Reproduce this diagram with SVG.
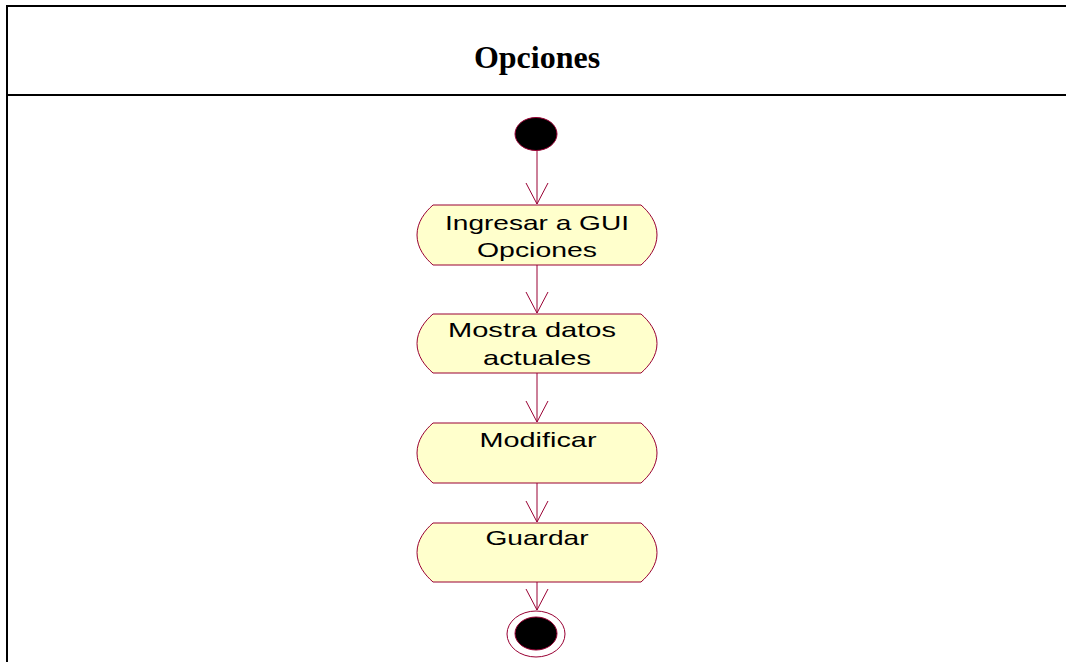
<svg xmlns="http://www.w3.org/2000/svg" width="1066" height="662" viewBox="0 0 1066 662">
<style>
.frame{stroke:#000;stroke-width:2;fill:none}
.act{fill:#ffffcc;stroke:#990033;stroke-width:1}
.lbl{font-family:"Liberation Sans",Arial,sans-serif;font-size:21px;fill:#000;text-anchor:middle}
.title{font-family:"Liberation Serif","Times New Roman",serif;font-size:32px;font-weight:bold;fill:#000;text-anchor:middle}
.conn{stroke:#990033;stroke-width:1;fill:none}
</style>
<defs>
<marker id="arr" markerWidth="24" markerHeight="24" viewBox="0 0 24 24" refX="21" refY="12" orient="auto" markerUnits="userSpaceOnUse">
<path d="M0,1 L21,12 L0,23" fill="none" stroke="#990033" stroke-width="1"/>
</marker>
</defs>
<rect width="1066" height="662" fill="#fff"/>
<g id="frame">
<line class="frame" x1="6" y1="6" x2="1066" y2="6"/>
<line class="frame" x1="6" y1="95" x2="1066" y2="95"/>
<line class="frame" x1="7" y1="5" x2="7" y2="662"/>
<text class="title" x="537" y="68">Opciones</text>
</g>
<g id="connectors">
<line class="conn" x1="537" y1="150" x2="537" y2="204" marker-end="url(#arr)"/>
<line class="conn" x1="537" y1="265" x2="537" y2="313" marker-end="url(#arr)"/>
<line class="conn" x1="537" y1="373" x2="537" y2="422" marker-end="url(#arr)"/>
<line class="conn" x1="537" y1="483" x2="537" y2="522" marker-end="url(#arr)"/>
<line class="conn" x1="537" y1="582" x2="537" y2="610" marker-end="url(#arr)"/>
</g>
<g id="start">
<ellipse cx="536" cy="134" rx="21" ry="16.5" fill="#000" stroke="#990033" stroke-width="1"/>
</g>
<g id="act1">
<path class="act" d="M433,205 L641,205 C649,212 657,222 657,235 C657,248 649,258 641,265 L433,265 C425,258 417,248 417,235 C417,222 425,212 433,205 Z"/>
<text class="lbl" x="537" y="230" textLength="184" lengthAdjust="spacingAndGlyphs">Ingresar a GUI</text>
<text class="lbl" x="537" y="257" textLength="120" lengthAdjust="spacingAndGlyphs">Opciones</text>
</g>
<g id="act2">
<path class="act" d="M433,314 L641,314 C649,321 657,331 657,343.5 C657,356 649,366 641,373 L433,373 C425,366 417,356 417,343.5 C417,331 425,321 433,314 Z"/>
<text class="lbl" x="532" y="337" textLength="168" lengthAdjust="spacingAndGlyphs">Mostra datos</text>
<text class="lbl" x="537" y="365" textLength="108" lengthAdjust="spacingAndGlyphs">actuales</text>
</g>
<g id="act3">
<path class="act" d="M433,423 L641,423 C649,430 657,440 657,453 C657,466 649,476 641,483 L433,483 C425,476 417,466 417,453 C417,440 425,430 433,423 Z"/>
<text class="lbl" x="538" y="447" textLength="117" lengthAdjust="spacingAndGlyphs">Modificar</text>
</g>
<g id="act4">
<path class="act" d="M433,523 L641,523 C649,530 657,540 657,552.5 C657,565 649,575 641,582 L433,582 C425,575 417,565 417,552.5 C417,540 425,530 433,523 Z"/>
<text class="lbl" x="537" y="545" textLength="103" lengthAdjust="spacingAndGlyphs">Guardar</text>
</g>
<g id="end">
<ellipse cx="536" cy="634" rx="29" ry="23" fill="#fff" stroke="#990033" stroke-width="1"/>
<ellipse cx="536" cy="633.5" rx="21" ry="16.5" fill="#000" stroke="#990033" stroke-width="1"/>
</g>
</svg>
